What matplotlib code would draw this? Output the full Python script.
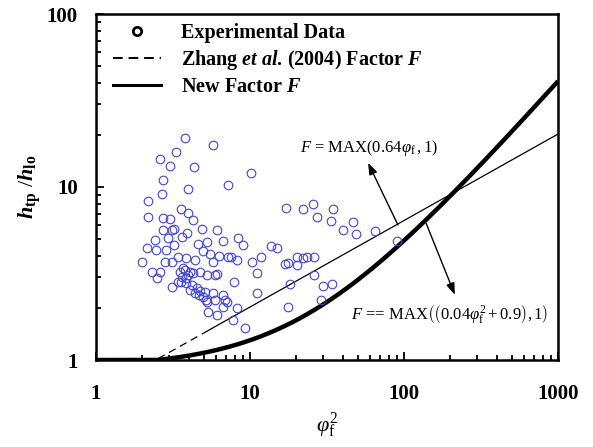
import numpy as np
import matplotlib
matplotlib.use("Agg")
import matplotlib.pyplot as plt
from matplotlib.lines import Line2D
from matplotlib.ticker import LogLocator, FixedLocator, FixedFormatter, NullFormatter

plt.rcParams['font.family'] = ['Liberation Serif', 'DejaVu Serif']
plt.rcParams['mathtext.fontset'] = 'custom'
plt.rcParams['mathtext.rm'] = 'Liberation Serif'
plt.rcParams['mathtext.it'] = 'Liberation Serif:italic'
plt.rcParams['mathtext.bf'] = 'Liberation Serif:bold'
plt.rcParams['mathtext.bfit'] = 'Liberation Serif:italic:bold'

# ---------------- data ----------------
exp_x = [3.78, 5.75, 3.31, 2.60, 3.02, 4.33, 10.1, 2.72, 7.20, 3.96,
         2.68, 2.18, 17.1, 22.1, 25.6, 34.6, 27.2, 33.6, 46.6, 40.2,
         48.8, 64.9, 90.1, 3.56, 3.96, 2.18, 2.72, 3.02, 4.26, 3.12,
         3.21, 2.72, 3.90, 4.88, 6.10, 2.42, 2.94, 3.62, 4.60, 5.26,
         6.68, 8.36, 9.01, 13.7, 15.0, 2.14, 2.45, 2.85, 3.21, 4.95,
         5.50, 5.75, 6.29, 7.20, 7.53, 8.24, 10.3, 11.8, 16.9, 17.7,
         20.2, 20.2, 23.4, 26.0, 22.1, 1.99, 2.81, 3.12, 3.41, 3.84,
         4.39, 2.31, 2.60, 2.49, 3.51, 3.78, 4.08, 3.62, 3.96, 4.26,
         4.73, 5.26, 5.93, 6.10, 7.87, 11.1, 18.2, 26.0, 29.8, 34.1,
         3.12, 3.56, 3.84, 4.20, 4.53, 4.73, 4.39, 4.67, 4.95, 5.18,
         5.10, 5.75, 6.68, 11.1, 5.93, 6.88, 7.09, 5.26, 8.24, 6.68,
         17.7, 28.9, 5.34, 6.10, 7.76, 9.28, 3.84, 3.41, 4.08, 3.67]
exp_y = [19.2, 17.5, 15.9, 14.5, 13.2, 13.1, 12.0, 11.0, 10.3, 9.73,
         9.11, 8.30, 7.56, 7.46, 7.97, 7.46, 6.71, 6.36, 6.28, 5.64,
         5.35, 5.57, 4.88, 7.46, 7.07, 6.71, 6.62, 6.53, 6.45, 5.64,
         5.71, 5.64, 5.42, 5.71, 5.64, 4.94, 5.07, 5.14, 4.69, 4.81,
         4.88, 5.07, 4.62, 4.56, 4.44, 4.44, 4.32, 4.32, 4.62, 4.27,
         4.10, 3.68, 3.99, 3.94, 3.94, 3.78, 3.68, 3.94, 3.59, 3.64,
         3.94, 3.54, 3.94, 3.94, 3.89, 3.68, 3.68, 3.68, 3.94, 3.89,
         3.78, 3.23, 3.23, 2.98, 3.23, 3.31, 3.23, 3.02, 3.10, 3.18,
         3.23, 3.10, 3.10, 3.14, 2.82, 3.18, 2.75, 3.10, 2.68, 2.75,
         2.64, 2.82, 2.79, 2.71, 2.61, 2.51, 2.44, 2.37, 2.31, 2.22,
         2.47, 2.44, 2.37, 2.44, 2.22, 2.22, 2.16, 2.16, 2.00, 2.02,
         2.02, 2.22, 1.89, 1.82, 1.70, 1.53, 2.98, 2.82, 2.54, 3.40]

zhang_coef = 0.64          # F = MAX(0.64 phi_f, 1)
new_a, new_b = 0.04, 0.9   # F = MAX(0.04 phi_f^2 + 0.9, 1)
dash_end = 5.0             # Zhang curve drawn dashed below this phi_f^2

xticks = [1, 10, 100, 1000]
xticklabels = ["1", "10", "100", "1000"]
yticks = [1, 10, 100]
yticklabels = ["1", "10", "100"]

legend_labels = ["Experimental Data",
                 r"Zhang $\mathbfit{et\ al}$. (2004) Factor $\mathbfit{F}$",
                 r"New Factor $\mathbfit{F}$"]

# ---------------- figure ----------------
fig = plt.figure(figsize=(5.93, 4.47), dpi=100)
ax = fig.add_axes([96/593, 87/447, 462/593, 346/447])
ax.set_xscale('log')
ax.set_yscale('log')
ax.set_xlim(1, 1000)
ax.set_ylim(1, 100)

phi2 = np.logspace(0, 3, 800)
zhang = np.maximum(zhang_coef * np.sqrt(phi2), 1)
newF = np.maximum(new_a * phi2 + new_b, 1)

m1 = phi2 <= dash_end
m2 = phi2 >= dash_end
ax.plot(phi2[m1], zhang[m1], color='black', lw=0.9, ls=(0, (6, 4)))
ax.plot(phi2[m2], zhang[m2], color='black', lw=0.9)
ax.plot(phi2, newF, color='black', lw=3.2, solid_capstyle='butt')

ax.plot(exp_x, exp_y, 'o', mfc='none', mec='#4545c8', ms=6.2, mew=0.8)

# annotations
ax.annotate('', xy=(58.4, 13.8), xytext=(91.4, 6.03),
            arrowprops=dict(arrowstyle='-|>,head_length=0.7,head_width=0.25',
                            color='black', lw=1.0, shrinkA=0, shrinkB=0))
ax.annotate('', xy=(214, 2.38), xytext=(139, 6.19),
            arrowprops=dict(arrowstyle='-|>,head_length=0.7,head_width=0.25',
                            color='black', lw=1.0, shrinkA=0, shrinkB=0))
ax.text(59.3, 16.8, r"$F$ = MAX$\left(0.64\varphi_{\rm f}\,, 1\right)$",
        ha='center', va='center', fontsize=12)
ax.text(199, 1.84,
        r"$F$ == MAX$\left(\left(0.04\varphi_{\rm f}^{2}+0.9\right),1\right)$",
        ha='center', va='center', fontsize=12)

# axes styling
for s in ax.spines.values():
    s.set_linewidth(1.8)
ax.xaxis.set_major_locator(FixedLocator(xticks))
ax.xaxis.set_major_formatter(FixedFormatter(xticklabels))
ax.yaxis.set_major_locator(FixedLocator(yticks))
ax.yaxis.set_major_formatter(FixedFormatter(yticklabels))
ax.xaxis.set_minor_locator(LogLocator(base=10, subs=np.arange(2, 10)))
ax.yaxis.set_minor_locator(LogLocator(base=10, subs=np.arange(2, 10)))
ax.xaxis.set_minor_formatter(NullFormatter())
ax.yaxis.set_minor_formatter(NullFormatter())
ax.tick_params(which='both', direction='in', top=False, right=False, width=1.3)
ax.tick_params(which='major', length=5.5, labelsize=15)
ax.tick_params(axis='x', which='major', pad=17)
ax.tick_params(axis='y', which='major', pad=13)
ax.tick_params(which='minor', length=3.5)
for lab in ax.get_xticklabels() + ax.get_yticklabels():
    lab.set_fontweight('bold')

ax.set_xlabel(r"$\varphi_{\rm f}^{2}$", fontsize=16, labelpad=5)
ax.set_ylabel(r"$\mathbfit{h}_{\mathbf{tp}}\ /\mathbfit{h}_{\mathbf{lo}}$",
              fontsize=16, labelpad=3)

handles = [Line2D([], [], ls='none', marker='o', mfc='white', mec='black', ms=6, mew=2),
           Line2D([], [], color='black', lw=1.4, ls=(0, (5, 3))),
           Line2D([], [], color='black', lw=2.2)]
leg = ax.legend(handles, legend_labels, loc='upper left',
                bbox_to_anchor=((113 - 96) / 462, 1 - (23 - 14) / 346),
                frameon=False, borderpad=0, borderaxespad=0,
                handlelength=2.4, handletextpad=1.0, labelspacing=0.25,
                prop={'weight': 'bold', 'size': 14.5})

fig.savefig('out.png', dpi=100)
